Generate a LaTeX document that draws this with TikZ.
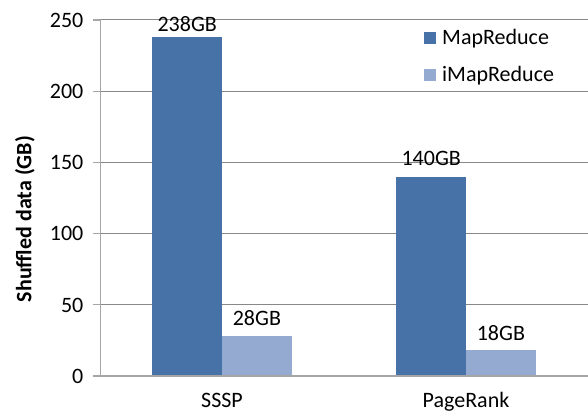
\documentclass[tikz,border=0pt]{standalone}
\usepackage{fontspec}
\setmainfont{Carlito}
\definecolor{mrblue}{HTML}{4672A8}
\definecolor{imrblue}{HTML}{95AAD1}
\definecolor{gridgray}{HTML}{888888}
\definecolor{axisgray}{HTML}{A6A6A6}
\begin{document}
\begin{tikzpicture}[x=1pt,y=-1pt,
  every node/.style={inner sep=0pt,font=\fontsize{22}{26}\selectfont},
  gridline/.style={draw=gridgray,line width=1pt},
  axisline/.style={draw=axisgray,line width=1.2pt},
  ticklabel/.style={anchor=base east},
  vallabel/.style={anchor=base},
  catlabel/.style={anchor=base},
  mrbar/.style={fill=mrblue},
  imrbar/.style={fill=imrblue}]
\useasboundingbox (0,0) rectangle (588,411);
% value scale: 0 at y=376, 250 at y=20
\def\yz{376}\def\ys{1.424}
% horizontal gridlines and y ticks
\foreach \v in {50,100,150,200,250}{
  \draw[gridline] (100,{\yz-\v*\ys}) -- (588,{\yz-\v*\ys});
}
\foreach \v in {0,50,100,150,200,250}{
  \draw[axisline] (93,{\yz-\v*\ys}) -- (100.5,{\yz-\v*\ys});
  \node[ticklabel] (t\v) at (83.5,{\yz-\v*\ys+7.3}) {\v};
}
% bars
\fill[mrbar]  (152.3,{\yz-238*\ys}) rectangle (222,\yz);
\fill[imrbar] (222,{\yz-28*\ys})  rectangle (291.7,\yz);
\fill[mrbar]  (396.3,{\yz-140*\ys}) rectangle (466,\yz);
\fill[imrbar] (466,{\yz-18*\ys})  rectangle (535.7,\yz);
% axes
\draw[axisline] (100.5,20) -- (100.5,\yz);
\draw[axisline] (100,\yz) -- (588,\yz);
% value labels
\node[vallabel] (l238) at (187.2,32) {238GB};
\node[vallabel] (l28)  at (256.9,325) {28GB};
\node[vallabel] (l140) at (431.2,166) {140GB};
\node[vallabel] (l18)  at (500.9,340.7) {18GB};
% categories
\node[catlabel] (sssp) at (222,407) {SSSP};
\node[catlabel] (pr)   at (466,407) {PageRank};
% axis title
\node[rotate=90,font=\fontsize{22}{26}\selectfont\bfseries] (ytitle) at (25,219) {Shuffled data (GB)};
% legend
\fill[mrbar]  (423.5,32.3) rectangle (435.8,44.5);
\node[anchor=base west] (legmr) at (442,45) {MapReduce};
\fill[imrbar] (423.5,69.3) rectangle (435.8,81.5);
\node[anchor=base west] (legimr) at (442,82) {iMapReduce};
\end{tikzpicture}
\end{document}
